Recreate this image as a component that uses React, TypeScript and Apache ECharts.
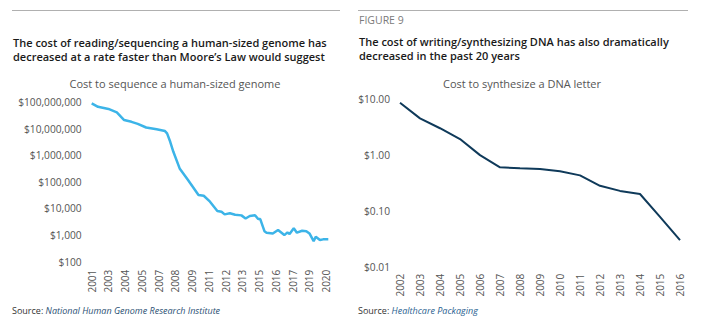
import React, { useEffect, useRef } from "react";
import * as echarts from "echarts";

// Left chart: cost to sequence a human-sized genome (x = months since Sep 2001)
const genomeMonths = [0, 6, 16, 24, 31, 38, 44, 52, 62, 70, 72, 75, 78, 84, 92, 102, 107, 113, 120, 124, 127, 132, 137, 143, 147, 151, 156, 159, 161, 165, 167, 173, 178, 184, 187, 189, 193, 196, 201, 205, 208, 212, 214, 218, 221, 226];
const genomeCost = [89000000, 66000000, 55000000, 41000000, 21000000, 18000000, 15000000, 11000000, 9400000, 8100000, 6600000, 3200000, 1350000, 320000, 117000, 32000, 30000, 18000, 8100, 7500, 6000, 6600, 5800, 5500, 4200, 5200, 5600, 4000, 4000, 1400, 1230, 1150, 1550, 1000, 1260, 1100, 1800, 1230, 1450, 1400, 1150, 590, 870, 650, 690, 690];
const genomeYearTicks = ["2001", "2003", "2004", "2005", "2007", "2008", "2009", "2011", "2012", "2013", "2015", "2016", "2017", "2019", "2020"];

// Right chart: cost to synthesize a DNA letter
const dnaYears = ["2002", "2003", "2004", "2005", "2006", "2007", "2008", "2009", "2010", "2011", "2012", "2013", "2014", "2015", "2016"];
const dnaCost = [8.6, 4.5, 3.0, 1.92, 0.99, 0.6, 0.575, 0.56, 0.51, 0.43, 0.28, 0.227, 0.2, 0.078, 0.03];

const FONT = "Open Sans";

export default function App() {
  const ref = useRef<HTMLDivElement>(null);
  useEffect(() => {
    document.body.style.margin = "0";
    const chart = echarts.init(ref.current!, null, { renderer: "svg" });
    const axisLabel = { color: "#555", fontSize: 10.2, fontFamily: FONT };
    chart.setOption({
      animation: false,
      backgroundColor: "#fff",
      grid: [
        { left: 91.7, top: 102, width: 236.6, height: 159.7 },
        { left: 400, top: 99, width: 280, height: 167.7 },
      ],
      xAxis: [
        {
          type: "value",
          gridIndex: 0,
          min: 0,
          max: 226,
          interval: 16,
          axisLine: { show: false },
          axisTick: { show: false },
          splitLine: { show: false },
          axisLabel: {
            ...axisLabel,
            fontSize: 10,
            rotate: 90,
            margin: 8,
            showMaxLabel: false,
            formatter: (v: number) => (v % 16 === 0 ? genomeYearTicks[v / 16] ?? "" : ""),
          },
        },
        {
          type: "category",
          gridIndex: 1,
          data: dnaYears,
          boundaryGap: false,
          axisLine: { show: false },
          axisTick: { show: false },
          splitLine: { show: false },
          axisLabel: { ...axisLabel, fontSize: 10, rotate: 90, margin: 7, interval: 0 },
        },
      ],
      yAxis: [
        {
          type: "log",
          gridIndex: 0,
          logBase: 10,
          min: 100,
          max: 100000000,
          interval: 1,
          splitNumber: 6,
          axisLine: { show: false },
          axisTick: { show: false },
          splitLine: { show: false },
          axisLabel: {
            ...axisLabel,
            margin: 10,
            formatter: (v: number) => "$" + Math.round(v).toLocaleString("en-US"),
          },
        },
        {
          type: "log",
          gridIndex: 1,
          logBase: 10,
          min: 0.01,
          max: 10,
          interval: 1,
          splitNumber: 3,
          axisLine: { show: false },
          axisTick: { show: false },
          splitLine: { show: false },
          axisLabel: {
            ...axisLabel,
            margin: 10,
            formatter: (v: number) => "$" + v.toFixed(2),
          },
        },
      ],
      series: [
        {
          type: "line",
          xAxisIndex: 0,
          yAxisIndex: 0,
          data: genomeMonths.map((m, i) => [m, genomeCost[i]]),
          showSymbol: false,
          lineStyle: { color: "#3cb4e8", width: 2.5 },
          itemStyle: { color: "#3cb4e8" },
        },
        {
          type: "line",
          xAxisIndex: 1,
          yAxisIndex: 1,
          data: dnaCost,
          showSymbol: false,
          lineStyle: { color: "#0f3a5a", width: 2 },
          itemStyle: { color: "#0f3a5a" },
        },
      ],
      graphic: [
        { type: "line", shape: { x1: 12, y1: 10.5, x2: 340, y2: 10.5 }, style: { stroke: "#b0b0b0", lineWidth: 1 } },
        { type: "line", shape: { x1: 358, y1: 10.5, x2: 688, y2: 10.5 }, style: { stroke: "#b0b0b0", lineWidth: 1 } },
        {
          type: "text",
          x: 13,
          y: 35,
          style: {
            text: "The cost of reading/sequencing a human-sized genome has\ndecreased at a rate faster than Moore\u2019s Law would suggest",
            font: `600 11px "${FONT}"`,
            fill: "#1a1a1a",
            lineHeight: 14,
          },
        },
        {
          type: "text",
          x: 359,
          y: 14,
          style: { text: "FIGURE 9", font: `400 10.5px "${FONT}"`, fill: "#7a7a7a" },
        },
        {
          type: "text",
          x: 359,
          y: 34,
          style: {
            text: "The cost of writing/synthesizing DNA has also dramatically\ndecreased in the past 20 years",
            font: `600 11px "${FONT}"`,
            fill: "#1a1a1a",
            lineHeight: 14,
          },
        },
        {
          type: "text",
          x: 175,
          y: 83,
          style: {
            text: "Cost to sequence a human-sized genome",
            font: `400 11px "${FONT}"`,
            fill: "#555",
            textAlign: "center",
            textVerticalAlign: "middle",
          },
        },
        {
          type: "text",
          x: 522,
          y: 83,
          style: {
            text: "Cost to synthesize a DNA letter",
            font: `400 11px "${FONT}"`,
            fill: "#555",
            textAlign: "center",
            textVerticalAlign: "middle",
          },
        },
        {
          type: "text",
          x: 12,
          y: 310,
          style: {
            text: "{a|Source: }{b|National Human Genome Research Institute}",
            textVerticalAlign: "middle",
            rich: {
              a: { fontFamily: FONT, fontSize: 9, fill: "#333", color: "#333" },
              b: { fontFamily: FONT, fontSize: 9, fontStyle: "italic", fill: "#2a4f73", color: "#2a4f73" },
            },
          },
        },
        {
          type: "text",
          x: 358,
          y: 310,
          style: {
            text: "{a|Source: }{b|Healthcare Packaging}",
            textVerticalAlign: "middle",
            rich: {
              a: { fontFamily: FONT, fontSize: 9, fill: "#333", color: "#333" },
              b: { fontFamily: FONT, fontSize: 9, fontStyle: "italic", fill: "#2a5f90", color: "#2a5f90" },
            },
          },
        },
      ],
    });
    return () => chart.dispose();
  }, []);
  return <div ref={ref} style={{ position: "fixed", left: 0, top: 0, width: 704, height: 330 }} />;
}
